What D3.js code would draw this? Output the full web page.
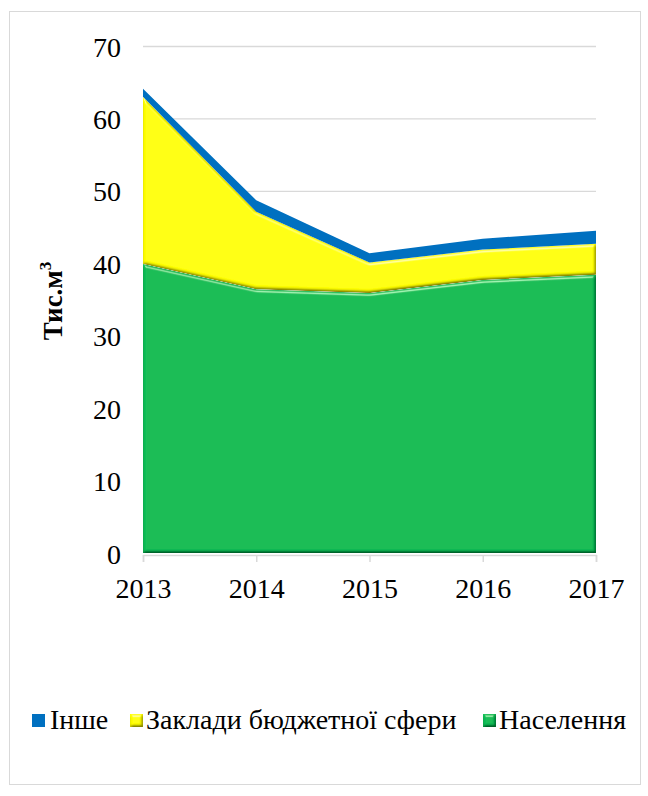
<!DOCTYPE html>
<html>
<head>
<meta charset="UTF-8">
<title>Chart</title>
<style>
  body { margin: 0; background: #fff; }
  svg { display: block; }
</style>
<script src="https://d3js.org/d3.v7.min.js"></script>
</head>
<body>
<script>
const years = [2013, 2014, 2015, 2016, 2017];
const naselennia = [39.9, 36.4, 35.9, 37.7, 38.4];
const zaklady = [23.1, 10.7, 4.2, 4.2, 4.3];
const inshe = [1.1, 1.6, 1.3, 1.5, 1.8];
const seriesNames = ["Населення", "Заклади бюджетної сфери", "Інше"];
const yTicks = [0, 10, 20, 30, 40, 50, 60, 70];

const FONT = "Liberation Serif";
const width = 648, height = 796;
const svg = d3.select("body").append("svg")
    .attr("width", width).attr("height", height);

// bevel filter (light from upper left)
const defs = svg.append("defs");
const f = defs.append("filter").attr("id", "bevel")
    .attr("x", "-5%").attr("y", "-5%").attr("width", "110%").attr("height", "110%");
f.append("feGaussianBlur").attr("in", "SourceAlpha").attr("stdDeviation", 1.6).attr("result", "blur");
f.append("feDiffuseLighting").attr("in", "blur").attr("surfaceScale", 2.5)
    .attr("diffuseConstant", 1).attr("lighting-color", "#ffffff").attr("result", "diff")
  .append("feDistantLight").attr("azimuth", 240).attr("elevation", 60);
f.append("feComposite").attr("in", "SourceGraphic").attr("in2", "diff")
    .attr("operator", "arithmetic").attr("k1", 1.155).attr("k2", 0).attr("k3", 0).attr("k4", 0)
    .attr("result", "shaded");
f.append("feSpecularLighting").attr("in", "blur").attr("surfaceScale", 2.5)
    .attr("specularConstant", 0.7).attr("specularExponent", 35)
    .attr("lighting-color", "#ffffff").attr("result", "spec")
  .append("feDistantLight").attr("azimuth", 265).attr("elevation", 35);
f.append("feComposite").attr("in", "shaded").attr("in2", "spec")
    .attr("operator", "arithmetic").attr("k1", 0).attr("k2", 1).attr("k3", 0.5).attr("k4", 0)
    .attr("result", "lit");
f.append("feComposite").attr("in", "lit").attr("in2", "SourceAlpha").attr("operator", "in");

// frame
svg.append("rect").attr("x", 9.5).attr("y", 11.5).attr("width", 631).attr("height", 773)
    .attr("fill", "none").attr("stroke", "#d9d9d9").attr("stroke-width", 1);

const x = d3.scaleLinear().domain([2013, 2017]).range([143, 596]);
const y = d3.scaleLinear().domain([0, 70]).range([553, 46]);

// grid
svg.append("g").selectAll("line").data(yTicks.filter(d => d > 0)).join("line")
    .attr("x1", x(2013)).attr("x2", x(2017))
    .attr("y1", d => y(d) + 0.5).attr("y2", d => y(d) + 0.5)
    .attr("stroke", "#d9d9d9").attr("stroke-width", 1.3);

const table = years.map((yr, i) => ({
  year: yr,
  "Населення": naselennia[i],
  "Заклади бюджетної сфери": zaklady[i],
  "Інше": inshe[i]
}));
const stacked = d3.stack().keys(seriesNames)(table);
const colors = { "Населення": "#0bbb55", "Заклади бюджетної сфери": "#ffff00", "Інше": "#0070c0" };

const area = d3.area().x(d => x(d.data.year)).y0(d => y(d[0])).y1(d => y(d[1]));

// x axis line sits under the areas
const xAxis = d3.axisBottom(x).tickValues(years).tickFormat(d3.format("d")).tickSize(7).tickPadding(16);
const gx = svg.append("g").attr("transform", `translate(0,${y(0) + 2})`).call(xAxis)
    .attr("font-family", FONT).attr("font-size", 28);
gx.select(".domain").attr("stroke", "#d9d9d9").attr("stroke-width", 1.5);
gx.selectAll(".tick line").attr("stroke", "#d9d9d9").attr("stroke-width", 1.5);
gx.selectAll(".tick text").attr("dy", "0.71em").attr("fill", "#000");

svg.append("g").selectAll("path").data(stacked).join("path")
    .attr("d", area)
    .attr("fill", d => colors[d.key])
    .attr("filter", d => d.key === "Інше" ? null : "url(#bevel)");

// y axis
const yAxis = d3.axisLeft(y).tickValues(yTicks).tickSize(0).tickPadding(22);
const gy = svg.append("g").attr("transform", `translate(${x(2013)},0)`).call(yAxis)
    .attr("font-family", FONT).attr("font-size", 28);
gy.select(".domain").remove();
gy.selectAll(".tick text").attr("dy", "0.36em").attr("fill", "#000");

// y title
const yt = svg.append("text").attr("transform", "translate(62,301) rotate(-90)")
    .attr("text-anchor", "middle")
    .attr("font-family", FONT).attr("font-size", 27).attr("font-weight", "bold");
yt.append("tspan").text("Тис.м");
yt.append("tspan").text("3").attr("dy", -11).attr("font-size", 17);

// legend
const legendItems = [
  { name: "Інше", color: colors["Інше"], x: 32, tx: 50 },
  { name: "Заклади бюджетної сфери", color: colors["Заклади бюджетної сфери"], x: 130, tx: 146 },
  { name: "Населення", color: colors["Населення"], x: 483, tx: 499 }
];
const lg = svg.append("g").attr("font-family", FONT).attr("font-size", 28)
  .selectAll("g").data(legendItems).join("g");
lg.append("rect").attr("x", d => d.x).attr("y", 714).attr("width", 13).attr("height", 13)
    .attr("fill", d => d.color)
    .attr("filter", d => d.name === "Інше" ? null : "url(#bevel)");
lg.append("text").attr("x", d => d.tx).attr("y", 729)
    .attr("fill", "#000")
    .text(d => d.name);
</script>
</body>
</html>
